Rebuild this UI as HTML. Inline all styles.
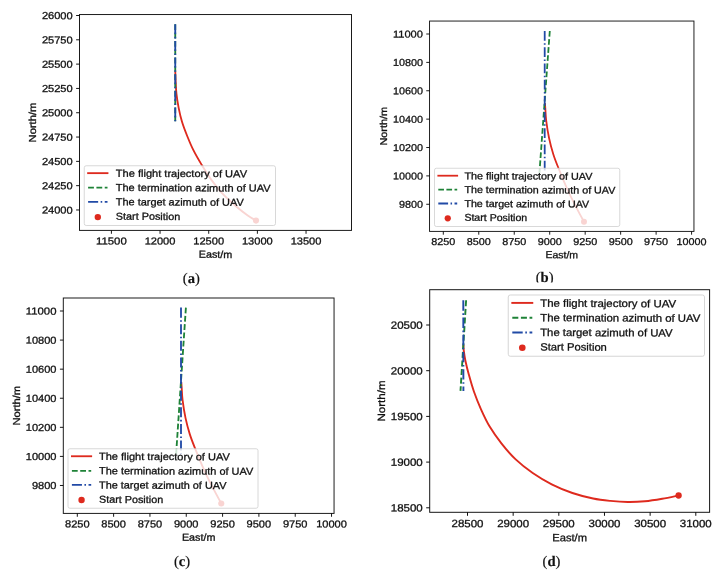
<!DOCTYPE html>
<html><head><meta charset="utf-8"><title>Figure</title>
<style>html,body{margin:0;padding:0;background:#fff}svg{display:block}</style></head>
<body><svg width="724" height="580" viewBox="0 0 724 580">
<rect width="724" height="580" fill="#fff"/>
<g font-family="Liberation Sans, sans-serif" text-rendering="geometricPrecision" fill="#111" opacity="0.999">
<g id="pa">
<clipPath id="ca"><rect x="79.5" y="14.55" width="272.0" height="215.85"/></clipPath>
<g clip-path="url(#ca)" fill="none" stroke-width="1.84">
<path d="M175.30,72.10 C175.35,73.42 175.42,76.45 175.60,80.00 C175.78,83.55 175.90,88.80 176.40,93.40 C176.90,98.00 177.67,102.87 178.60,107.60 C179.53,112.33 180.57,117.07 182.00,121.80 C183.43,126.53 185.30,131.27 187.20,136.00 C189.10,140.73 191.03,145.47 193.40,150.20 C195.77,154.93 198.55,159.67 201.40,164.40 C204.25,169.13 207.10,173.87 210.50,178.60 C213.90,183.33 217.55,188.20 221.80,192.80 C226.05,197.40 231.73,202.47 236.00,206.20 C240.27,209.93 244.07,212.80 247.40,215.20 C250.73,217.60 254.57,219.70 256.00,220.60" stroke="#de2a1e" stroke-linecap="square" stroke-linejoin="round"/>
<path d="M175.25,24.30 L175.25,121.20" stroke="#1e8237" stroke-dasharray="5.81 2.51"/>
<path d="M175.25,24.30 L175.25,121.20" stroke="#214aa6" stroke-dasharray="10.05 2.51 1.57 2.51"/>
<circle cx="256.00" cy="220.60" r="3.05" fill="#de2a1e" stroke="none"/>
</g>
<rect x="79.5" y="14.55" width="272.0" height="215.85" fill="none" stroke="#151515" stroke-width="0.97"/>
<path d="M111.40,230.4 v3.39 M160.06,230.4 v3.39 M208.72,230.4 v3.39 M257.38,230.4 v3.39 M306.04,230.4 v3.39 M79.5,15.50 h-3.39 M79.5,39.81 h-3.39 M79.5,64.12 h-3.39 M79.5,88.43 h-3.39 M79.5,112.74 h-3.39 M79.5,137.05 h-3.39 M79.5,161.36 h-3.39 M79.5,185.67 h-3.39 M79.5,209.98 h-3.39 " stroke="#000" stroke-width="0.92" fill="none"/>
<text transform="translate(95.99 244.40) rotate(0.25) scale(1.1194 1)" font-size="10.17" stroke="#111" stroke-width="0.3">11500</text>
<text transform="translate(144.65 244.40) rotate(0.25) scale(1.0895 1)" font-size="10.17" stroke="#111" stroke-width="0.3">12000</text>
<text transform="translate(193.31 244.40) rotate(0.25) scale(1.0895 1)" font-size="10.17" stroke="#111" stroke-width="0.3">12500</text>
<text transform="translate(241.97 244.40) rotate(0.25) scale(1.0895 1)" font-size="10.17" stroke="#111" stroke-width="0.3">13000</text>
<text transform="translate(290.63 244.40) rotate(0.25) scale(1.0895 1)" font-size="10.17" stroke="#111" stroke-width="0.3">13500</text>
<text transform="translate(41.89 19.05) rotate(0.25) scale(1.0895 1)" font-size="10.17" stroke="#111" stroke-width="0.3">26000</text>
<text transform="translate(41.89 43.36) rotate(0.25) scale(1.0895 1)" font-size="10.17" stroke="#111" stroke-width="0.3">25750</text>
<text transform="translate(41.89 67.67) rotate(0.25) scale(1.0895 1)" font-size="10.17" stroke="#111" stroke-width="0.3">25500</text>
<text transform="translate(41.89 91.98) rotate(0.25) scale(1.0895 1)" font-size="10.17" stroke="#111" stroke-width="0.3">25250</text>
<text transform="translate(41.89 116.29) rotate(0.25) scale(1.0895 1)" font-size="10.17" stroke="#111" stroke-width="0.3">25000</text>
<text transform="translate(41.89 140.60) rotate(0.25) scale(1.0895 1)" font-size="10.17" stroke="#111" stroke-width="0.3">24750</text>
<text transform="translate(41.89 164.91) rotate(0.25) scale(1.0895 1)" font-size="10.17" stroke="#111" stroke-width="0.3">24500</text>
<text transform="translate(41.89 189.22) rotate(0.25) scale(1.0895 1)" font-size="10.17" stroke="#111" stroke-width="0.3">24250</text>
<text transform="translate(41.89 213.53) rotate(0.25) scale(1.0895 1)" font-size="10.17" stroke="#111" stroke-width="0.3">24000</text>
<text transform="translate(198.69 257.80) rotate(0.25) scale(1.0616 1)" font-size="10.17" stroke="#111" stroke-width="0.3">East/m</text>
<text transform="rotate(-90 36.00 122.48) translate(16.10 122.48) scale(1.1001 1)" font-size="10.17" stroke="#111" stroke-width="0.3">North/m</text>
<rect x="84.25" y="165.75" width="191.25" height="59.75" rx="1.94" fill="#fff" fill-opacity="0.8" stroke="#ccc" stroke-opacity="0.8" stroke-width="0.97"/>
<g fill="none" stroke-width="1.84">
<path d="M88.1,173.15 H107.5" stroke="#de2a1e" stroke-linecap="square"/>
<path d="M88.1,187.7 H107.5" stroke="#1e8237" stroke-dasharray="5.81 2.51"/>
<path d="M88.1,201.9 H107.5" stroke="#214aa6" stroke-dasharray="10.05 2.51 1.57 2.51"/>
</g>
<circle cx="97.80" cy="217.10" r="3.20" fill="#de2a1e"/>
<text transform="translate(115.80 176.70) rotate(0.25) scale(1.0880 1)" font-size="10.17" stroke="#111" stroke-width="0.3">The flight trajectory of UAV</text>
<text transform="translate(115.80 191.00) rotate(0.25) scale(1.0805 1)" font-size="10.17" stroke="#111" stroke-width="0.3">The termination azimuth of UAV</text>
<text transform="translate(115.80 205.30) rotate(0.25) scale(1.0754 1)" font-size="10.17" stroke="#111" stroke-width="0.3">The target azimuth of UAV</text>
<text transform="translate(115.80 219.70) rotate(0.25) scale(1.0656 1)" font-size="10.17" stroke="#111" stroke-width="0.3">Start Position</text>
<text x="191.3" y="282.5" text-anchor="middle" font-family="Liberation Serif, serif" font-size="14.6" stroke="#111" stroke-width="0.2">(<tspan font-weight="bold" stroke-width="0.15">a</tspan>)</text>
</g>
<g id="pb">
<clipPath id="cb"><rect x="429.55" y="21.05" width="264.40000000000003" height="210.35"/></clipPath>
<g clip-path="url(#cb)" fill="none" stroke-width="1.79">
<path d="M545.00,104.00 C545.05,104.67 545.10,105.23 545.30,108.00 C545.50,110.77 545.57,115.55 546.20,120.60 C546.83,125.65 547.92,132.70 549.10,138.30 C550.28,143.90 551.72,149.18 553.30,154.20 C554.88,159.22 556.23,162.50 558.60,168.40 C560.97,174.30 564.53,183.07 567.50,189.60 C570.47,196.13 573.65,202.23 576.40,207.60 C579.15,212.97 582.73,219.43 584.00,221.80" stroke="#de2a1e" stroke-linecap="square" stroke-linejoin="round"/>
<path d="M549.80,31.00 L539.40,173.30" stroke="#1e8237" stroke-dasharray="5.66 2.45"/>
<path d="M544.70,31.00 L544.70,173.30" stroke="#214aa6" stroke-dasharray="9.79 2.45 1.53 2.45"/>
<circle cx="584.00" cy="221.80" r="2.97" fill="#de2a1e" stroke="none"/>
</g>
<rect x="429.55" y="21.05" width="264.40000000000003" height="210.35" fill="none" stroke="#151515" stroke-width="0.94"/>
<path d="M443.30,231.4 v3.30 M478.77,231.4 v3.30 M514.24,231.4 v3.30 M549.71,231.4 v3.30 M585.18,231.4 v3.30 M620.65,231.4 v3.30 M656.12,231.4 v3.30 M691.59,231.4 v3.30 M429.55,34.00 h-3.30 M429.55,62.38 h-3.30 M429.55,90.76 h-3.30 M429.55,119.14 h-3.30 M429.55,147.52 h-3.30 M429.55,175.90 h-3.30 M429.55,204.28 h-3.30 " stroke="#000" stroke-width="0.90" fill="none"/>
<text transform="translate(431.29 245.04) rotate(0.25) scale(1.0895 1)" font-size="9.91" stroke="#111" stroke-width="0.3">8250</text>
<text transform="translate(466.76 245.04) rotate(0.25) scale(1.0895 1)" font-size="9.91" stroke="#111" stroke-width="0.3">8500</text>
<text transform="translate(502.23 245.04) rotate(0.25) scale(1.0895 1)" font-size="9.91" stroke="#111" stroke-width="0.3">8750</text>
<text transform="translate(537.70 245.04) rotate(0.25) scale(1.0895 1)" font-size="9.91" stroke="#111" stroke-width="0.3">9000</text>
<text transform="translate(573.17 245.04) rotate(0.25) scale(1.0895 1)" font-size="9.91" stroke="#111" stroke-width="0.3">9250</text>
<text transform="translate(608.64 245.04) rotate(0.25) scale(1.0895 1)" font-size="9.91" stroke="#111" stroke-width="0.3">9500</text>
<text transform="translate(644.11 245.04) rotate(0.25) scale(1.0895 1)" font-size="9.91" stroke="#111" stroke-width="0.3">9750</text>
<text transform="translate(676.57 245.04) rotate(0.25) scale(1.0895 1)" font-size="9.91" stroke="#111" stroke-width="0.3">10000</text>
<text transform="translate(392.91 37.46) rotate(0.25) scale(1.1194 1)" font-size="9.91" stroke="#111" stroke-width="0.3">11000</text>
<text transform="translate(392.91 65.84) rotate(0.25) scale(1.0895 1)" font-size="9.91" stroke="#111" stroke-width="0.3">10800</text>
<text transform="translate(392.91 94.22) rotate(0.25) scale(1.0895 1)" font-size="9.91" stroke="#111" stroke-width="0.3">10600</text>
<text transform="translate(392.91 122.60) rotate(0.25) scale(1.0895 1)" font-size="9.91" stroke="#111" stroke-width="0.3">10400</text>
<text transform="translate(392.91 150.98) rotate(0.25) scale(1.0895 1)" font-size="9.91" stroke="#111" stroke-width="0.3">10200</text>
<text transform="translate(392.91 179.36) rotate(0.25) scale(1.0895 1)" font-size="9.91" stroke="#111" stroke-width="0.3">10000</text>
<text transform="translate(398.92 207.74) rotate(0.25) scale(1.0895 1)" font-size="9.91" stroke="#111" stroke-width="0.3">9800</text>
<text transform="translate(545.38 258.10) rotate(0.25) scale(1.0616 1)" font-size="9.91" stroke="#111" stroke-width="0.3">East/m</text>
<text transform="rotate(-90 387.17 126.23) translate(367.78 126.23) scale(1.1001 1)" font-size="9.91" stroke="#111" stroke-width="0.3">North/m</text>
<rect x="434.5" y="168.25" width="185.25" height="58.25" rx="1.89" fill="#fff" fill-opacity="0.8" stroke="#ccc" stroke-opacity="0.8" stroke-width="0.94"/>
<g fill="none" stroke-width="1.79">
<path d="M438.3,175.7 H457.2" stroke="#de2a1e" stroke-linecap="square"/>
<path d="M438.3,189.7 H457.2" stroke="#1e8237" stroke-dasharray="5.66 2.45"/>
<path d="M438.3,203.5 H457.2" stroke="#214aa6" stroke-dasharray="9.79 2.45 1.53 2.45"/>
</g>
<circle cx="447.75" cy="218.30" r="3.12" fill="#de2a1e"/>
<text transform="translate(464.40 179.20) rotate(0.25) scale(1.0880 1)" font-size="9.91" stroke="#111" stroke-width="0.3">The flight trajectory of UAV</text>
<text transform="translate(464.40 193.00) rotate(0.25) scale(1.0805 1)" font-size="9.91" stroke="#111" stroke-width="0.3">The termination azimuth of UAV</text>
<text transform="translate(464.40 207.00) rotate(0.25) scale(1.0754 1)" font-size="9.91" stroke="#111" stroke-width="0.3">The target azimuth of UAV</text>
<text transform="translate(464.40 220.80) rotate(0.25) scale(1.0656 1)" font-size="9.91" stroke="#111" stroke-width="0.3">Start Position</text>
<text x="544.6" y="282.2" text-anchor="middle" font-family="Liberation Serif, serif" font-size="14.6" stroke="#111" stroke-width="0.2">(<tspan font-weight="bold" stroke-width="0.15">b</tspan>)</text>
</g>
<rect x="362" y="282.5" width="362" height="6" fill="#fff"/>
<g id="pc">
<clipPath id="cc"><rect x="63.3" y="298.0" width="270.75" height="215.39999999999998"/></clipPath>
<g clip-path="url(#cc)" fill="none" stroke-width="1.84">
<path d="M181.36,383.05 C181.41,383.73 181.46,384.31 181.66,387.13 C181.87,389.96 181.93,394.85 182.58,400.01 C183.23,405.17 184.34,412.38 185.55,418.10 C186.76,423.82 188.23,429.22 189.85,434.35 C191.47,439.48 192.85,442.83 195.27,448.86 C197.69,454.89 201.34,463.85 204.38,470.53 C207.41,477.21 210.67,483.44 213.48,488.92 C216.30,494.41 219.96,501.02 221.26,503.44" stroke="#de2a1e" stroke-linecap="square" stroke-linejoin="round"/>
<path d="M185.90,307.60 L176.10,454.50" stroke="#1e8237" stroke-dasharray="5.80 2.51"/>
<path d="M181.00,307.60 L181.00,454.50" stroke="#214aa6" stroke-dasharray="10.03 2.51 1.57 2.51"/>
<circle cx="221.26" cy="503.44" r="3.05" fill="#de2a1e" stroke="none"/>
</g>
<rect x="63.3" y="298.0" width="270.75" height="215.39999999999998" fill="none" stroke="#151515" stroke-width="0.97"/>
<path d="M77.30,513.4 v3.38 M113.62,513.4 v3.38 M149.94,513.4 v3.38 M186.26,513.4 v3.38 M222.58,513.4 v3.38 M258.90,513.4 v3.38 M295.22,513.4 v3.38 M331.54,513.4 v3.38 M63.3,311.00 h-3.38 M63.3,340.08 h-3.38 M63.3,369.16 h-3.38 M63.3,398.24 h-3.38 M63.3,427.32 h-3.38 M63.3,456.40 h-3.38 M63.3,485.48 h-3.38 " stroke="#000" stroke-width="0.92" fill="none"/>
<text transform="translate(65.00 527.37) rotate(0.25) scale(1.0895 1)" font-size="10.15" stroke="#111" stroke-width="0.3">8250</text>
<text transform="translate(101.32 527.37) rotate(0.25) scale(1.0895 1)" font-size="10.15" stroke="#111" stroke-width="0.3">8500</text>
<text transform="translate(137.64 527.37) rotate(0.25) scale(1.0895 1)" font-size="10.15" stroke="#111" stroke-width="0.3">8750</text>
<text transform="translate(173.96 527.37) rotate(0.25) scale(1.0895 1)" font-size="10.15" stroke="#111" stroke-width="0.3">9000</text>
<text transform="translate(210.28 527.37) rotate(0.25) scale(1.0895 1)" font-size="10.15" stroke="#111" stroke-width="0.3">9250</text>
<text transform="translate(246.60 527.37) rotate(0.25) scale(1.0895 1)" font-size="10.15" stroke="#111" stroke-width="0.3">9500</text>
<text transform="translate(282.92 527.37) rotate(0.25) scale(1.0895 1)" font-size="10.15" stroke="#111" stroke-width="0.3">9750</text>
<text transform="translate(316.16 527.37) rotate(0.25) scale(1.0895 1)" font-size="10.15" stroke="#111" stroke-width="0.3">10000</text>
<text transform="translate(25.77 314.54) rotate(0.25) scale(1.1194 1)" font-size="10.15" stroke="#111" stroke-width="0.3">11000</text>
<text transform="translate(25.77 343.62) rotate(0.25) scale(1.0895 1)" font-size="10.15" stroke="#111" stroke-width="0.3">10800</text>
<text transform="translate(25.77 372.70) rotate(0.25) scale(1.0895 1)" font-size="10.15" stroke="#111" stroke-width="0.3">10600</text>
<text transform="translate(25.77 401.78) rotate(0.25) scale(1.0895 1)" font-size="10.15" stroke="#111" stroke-width="0.3">10400</text>
<text transform="translate(25.77 430.86) rotate(0.25) scale(1.0895 1)" font-size="10.15" stroke="#111" stroke-width="0.3">10200</text>
<text transform="translate(25.77 459.94) rotate(0.25) scale(1.0895 1)" font-size="10.15" stroke="#111" stroke-width="0.3">10000</text>
<text transform="translate(31.92 489.02) rotate(0.25) scale(1.0895 1)" font-size="10.15" stroke="#111" stroke-width="0.3">9800</text>
<text transform="translate(181.90 540.75) rotate(0.25) scale(1.0616 1)" font-size="10.15" stroke="#111" stroke-width="0.3">East/m</text>
<text transform="rotate(-90 19.89 405.70) translate(0.03 405.70) scale(1.1001 1)" font-size="10.15" stroke="#111" stroke-width="0.3">North/m</text>
<rect x="68" y="448.75" width="190" height="59.5" rx="1.93" fill="#fff" fill-opacity="0.8" stroke="#ccc" stroke-opacity="0.8" stroke-width="0.97"/>
<g fill="none" stroke-width="1.84">
<path d="M71.9,456.25 H91.2" stroke="#de2a1e" stroke-linecap="square"/>
<path d="M71.9,470.8 H91.2" stroke="#1e8237" stroke-dasharray="5.80 2.51"/>
<path d="M71.9,484.9 H91.2" stroke="#214aa6" stroke-dasharray="10.03 2.51 1.57 2.51"/>
</g>
<circle cx="81.55" cy="500.00" r="3.19" fill="#de2a1e"/>
<text transform="translate(99.00 459.80) rotate(0.25) scale(1.0880 1)" font-size="10.15" stroke="#111" stroke-width="0.3">The flight trajectory of UAV</text>
<text transform="translate(99.00 474.10) rotate(0.25) scale(1.0805 1)" font-size="10.15" stroke="#111" stroke-width="0.3">The termination azimuth of UAV</text>
<text transform="translate(99.00 488.40) rotate(0.25) scale(1.0754 1)" font-size="10.15" stroke="#111" stroke-width="0.3">The target azimuth of UAV</text>
<text transform="translate(99.00 502.80) rotate(0.25) scale(1.0656 1)" font-size="10.15" stroke="#111" stroke-width="0.3">Start Position</text>
<text x="182" y="565.8" text-anchor="middle" font-family="Liberation Serif, serif" font-size="14.6" stroke="#111" stroke-width="0.2">(<tspan font-weight="bold" stroke-width="0.15">c</tspan>)</text>
</g>
<g id="pd">
<clipPath id="cd"><rect x="429.7" y="289.7" width="279.90000000000003" height="222.59999999999997"/></clipPath>
<g clip-path="url(#cd)" fill="none" stroke-width="1.91">
<path d="M463.50,345.60 C463.53,346.33 463.38,347.48 463.70,350.00 C464.02,352.52 464.55,356.62 465.40,360.70 C466.25,364.78 467.37,369.32 468.80,374.50 C470.23,379.68 471.98,386.03 474.00,391.80 C476.02,397.57 478.32,403.35 480.90,409.10 C483.48,414.85 486.05,420.55 489.50,426.30 C492.95,432.05 497.28,438.13 501.60,443.60 C505.92,449.07 510.22,454.20 515.40,459.10 C520.58,464.00 526.65,468.80 532.70,473.00 C538.75,477.20 545.08,480.97 551.70,484.30 C558.32,487.63 565.50,490.63 572.40,493.00 C579.30,495.37 586.77,497.18 593.10,498.50 C599.43,499.82 604.63,500.32 610.40,500.90 C616.17,501.48 621.95,501.93 627.70,502.00 C633.45,502.07 639.15,501.83 644.90,501.30 C650.65,500.77 656.58,499.77 662.20,498.80 C667.82,497.83 675.87,496.05 678.60,495.50" stroke="#de2a1e" stroke-linecap="square" stroke-linejoin="round"/>
<path d="M466.10,300.30 L460.50,390.90" stroke="#1e8237" stroke-dasharray="6.01 2.60"/>
<path d="M463.30,300.30 L463.40,390.90" stroke="#214aa6" stroke-dasharray="10.40 2.60 1.62 2.60"/>
<circle cx="678.60" cy="495.50" r="3.16" fill="#de2a1e" stroke="none"/>
</g>
<rect x="429.7" y="289.7" width="279.90000000000003" height="222.59999999999997" fill="none" stroke="#151515" stroke-width="1.00"/>
<path d="M467.50,512.3 v3.51 M513.16,512.3 v3.51 M558.82,512.3 v3.51 M604.48,512.3 v3.51 M650.14,512.3 v3.51 M695.80,512.3 v3.51 M429.7,325.00 h-3.51 M429.7,370.70 h-3.51 M429.7,416.40 h-3.51 M429.7,462.10 h-3.51 M429.7,507.80 h-3.51 " stroke="#000" stroke-width="0.95" fill="none"/>
<text transform="translate(451.55 527.09) rotate(0.25) scale(1.0895 1)" font-size="10.53" stroke="#111" stroke-width="0.3">28500</text>
<text transform="translate(497.21 527.09) rotate(0.25) scale(1.0895 1)" font-size="10.53" stroke="#111" stroke-width="0.3">29000</text>
<text transform="translate(542.87 527.09) rotate(0.25) scale(1.0895 1)" font-size="10.53" stroke="#111" stroke-width="0.3">29500</text>
<text transform="translate(588.53 527.09) rotate(0.25) scale(1.0895 1)" font-size="10.53" stroke="#111" stroke-width="0.3">30000</text>
<text transform="translate(634.19 527.09) rotate(0.25) scale(1.0895 1)" font-size="10.53" stroke="#111" stroke-width="0.3">30500</text>
<text transform="translate(679.85 527.09) rotate(0.25) scale(1.0895 1)" font-size="10.53" stroke="#111" stroke-width="0.3">31000</text>
<text transform="translate(390.77 328.68) rotate(0.25) scale(1.0895 1)" font-size="10.53" stroke="#111" stroke-width="0.3">20500</text>
<text transform="translate(390.77 374.38) rotate(0.25) scale(1.0895 1)" font-size="10.53" stroke="#111" stroke-width="0.3">20000</text>
<text transform="translate(390.77 420.08) rotate(0.25) scale(1.0895 1)" font-size="10.53" stroke="#111" stroke-width="0.3">19500</text>
<text transform="translate(390.77 465.78) rotate(0.25) scale(1.0895 1)" font-size="10.53" stroke="#111" stroke-width="0.3">19000</text>
<text transform="translate(390.77 511.48) rotate(0.25) scale(1.0895 1)" font-size="10.53" stroke="#111" stroke-width="0.3">18500</text>
<text transform="translate(552.25 541.16) rotate(0.25) scale(1.0616 1)" font-size="10.53" stroke="#111" stroke-width="0.3">East/m</text>
<text transform="rotate(-90 384.67 401.00) translate(364.07 401.00) scale(1.1001 1)" font-size="10.53" stroke="#111" stroke-width="0.3">North/m</text>
<rect x="508.25" y="295" width="196.25" height="61.25" rx="2.01" fill="#fff" fill-opacity="0.8" stroke="#ccc" stroke-opacity="0.8" stroke-width="1.00"/>
<g fill="none" stroke-width="1.91">
<path d="M512.3,302.9 H532.3" stroke="#de2a1e" stroke-linecap="square"/>
<path d="M512.3,317.7 H532.3" stroke="#1e8237" stroke-dasharray="6.01 2.60"/>
<path d="M512.3,332.5 H532.3" stroke="#214aa6" stroke-dasharray="10.40 2.60 1.62 2.60"/>
</g>
<circle cx="522.30" cy="347.80" r="3.31" fill="#de2a1e"/>
<text transform="translate(540.20 306.70) rotate(0.25) scale(1.0880 1)" font-size="10.53" stroke="#111" stroke-width="0.3">The flight trajectory of UAV</text>
<text transform="translate(540.20 321.20) rotate(0.25) scale(1.0805 1)" font-size="10.53" stroke="#111" stroke-width="0.3">The termination azimuth of UAV</text>
<text transform="translate(540.20 335.90) rotate(0.25) scale(1.0754 1)" font-size="10.53" stroke="#111" stroke-width="0.3">The target azimuth of UAV</text>
<text transform="translate(540.20 350.40) rotate(0.25) scale(1.0656 1)" font-size="10.53" stroke="#111" stroke-width="0.3">Start Position</text>
<text x="551.5" y="565.8" text-anchor="middle" font-family="Liberation Serif, serif" font-size="14.6" stroke="#111" stroke-width="0.2">(<tspan font-weight="bold" stroke-width="0.15">d</tspan>)</text>
</g>
</g>
</svg></body></html>
